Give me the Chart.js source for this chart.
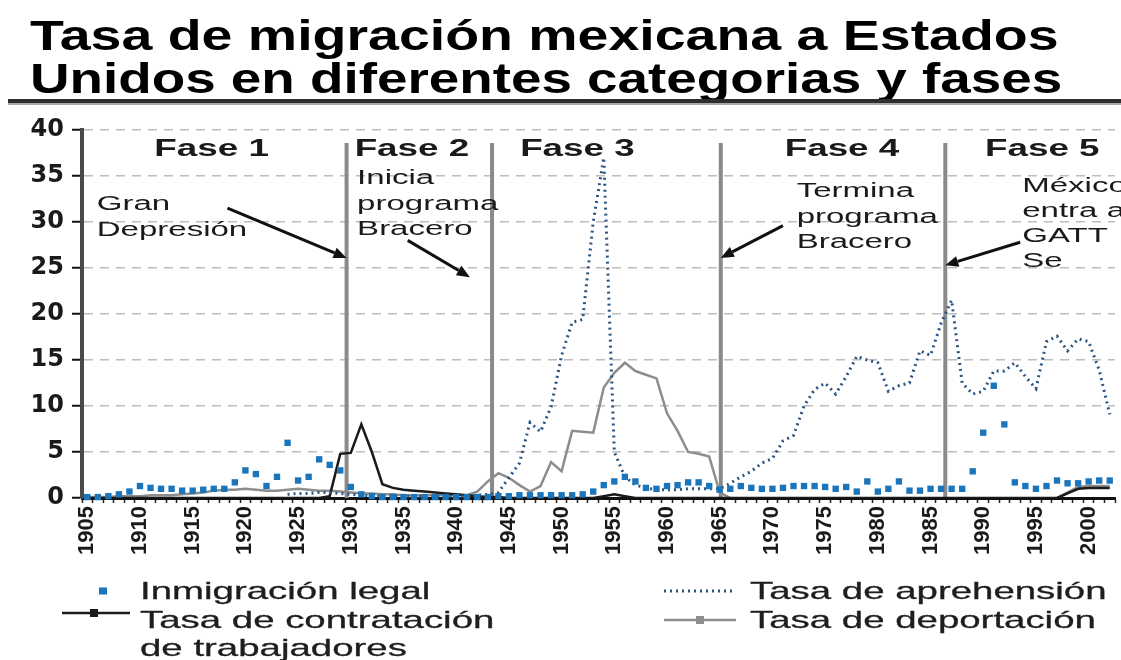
<!DOCTYPE html>
<html lang="es">
<head>
  <meta charset="UTF-8">
  <title>Tasa de migración mexicana a Estados Unidos</title>
  <script src="https://cdn.jsdelivr.net/npm/chart.js@4.4.3/dist/chart.umd.min.js"></script>
  <style>
    html, body { margin: 0; padding: 0; background: #fff; }
    body { width: 1121px; height: 660px; position: relative; overflow: hidden; font-family: "Liberation Sans", Arial, sans-serif; }
    #grafica { position: absolute; left: 0; top: 0; }
    .titulo { position: absolute; left: 30px; font-weight: bold; font-size: 43px; line-height: 46px; color: #000; white-space: nowrap; transform-origin: 0 50%; }
    .regla { position: absolute; left: 8px; top: 99px; width: 1113px; height: 4px; background: #2e2e2e; border-bottom: 2px solid #a8a8a8; }
    .ley { position: absolute; font-size: 24px; line-height: 28px; color: #1e1e1e; transform-origin: 0 0; transform: scaleX(1.6); -webkit-text-stroke: 0.3px #1e1e1e; }
    .marca { position: absolute; }
  </style>
</head>
<body>
  <canvas id="grafica" width="1121" height="660"></canvas>
  <div class="titulo" id="t1" style="top:12px">Tasa de migración mexicana a Estados</div>
  <div class="titulo" id="t2" style="top:55px">Unidos en diferentes categorias y fases</div>
  <div class="regla"></div>
  <div id="leyenda"></div>

  <script>
    // años (categorías del eje x)
    const anios = [
      1905, 1906, 1907, 1908, 1909, 1910, 1911, 1912, 1913, 1914,
      1915, 1916, 1917, 1918, 1919, 1920, 1921, 1922, 1923, 1924,
      1925, 1926, 1927, 1928, 1929, 1930, 1931, 1932, 1933, 1934,
      1935, 1936, 1937, 1938, 1939, 1940, 1941, 1942, 1943, 1944,
      1945, 1946, 1947, 1948, 1949, 1950, 1951, 1952, 1953, 1954,
      1955, 1956, 1957, 1958, 1959, 1960, 1961, 1962, 1963, 1964,
      1965, 1966, 1967, 1968, 1969, 1970, 1971, 1972, 1973, 1974,
      1975, 1976, 1977, 1978, 1979, 1980, 1981, 1982, 1983, 1984,
      1985, 1986, 1987, 1988, 1989, 1990, 1991, 1992, 1993, 1994,
      1995, 1996, 1997, 1998, 1999, 2000, 2001, 2002
    ];
    const etiquetasAnios = anios.map(String);
    const ticksY = [0, 5, 10, 15, 20, 25, 30, 35, 40];

    const inmigracionLegal = [
      0.1, 0.1, 0.2, 0.4, 0.7, 1.3, 1.1, 1.0, 1.0, 0.8,
      0.8, 0.9, 1.0, 1.0, 1.7, 3.0, 2.6, 1.3, 2.3, 6.0,
      1.9, 2.3, 4.2, 3.6, 3.0, 1.2, 0.4, 0.2, 0.1, 0.1,
      0.1, 0.1, 0.1, 0.1, 0.1, 0.1, 0.1, 0.1, 0.1, 0.2,
      0.2, 0.3, 0.3, 0.3, 0.3, 0.3, 0.3, 0.4, 0.7, 1.4,
      1.8, 2.3, 1.8, 1.1, 1.0, 1.3, 1.4, 1.7, 1.7, 1.3,
      0.9, 1.0, 1.3, 1.1, 1.0, 1.0, 1.1, 1.3, 1.3, 1.3,
      1.2, 1.0, 1.2, 0.7, 1.8, 0.7, 1.0, 1.8, 0.8, 0.8,
      1.0, 1.0, 1.0, 1.0, 2.9, 7.1, 12.2, 8.0, 1.7, 1.3,
      1.0, 1.3, 1.9, 1.6, 1.6, 1.8, 1.9, 1.9
    ];

    const contratacion = [
      0, 0, 0, 0, 0, 0, 0, 0, 0, 0,
      0, 0, 0, 0, 0, 0, 0, 0, 0, 0,
      0, 0, 0, 0.2, 4.8, 4.9, 8.0, 5.0, 1.5, 1.1,
      0.9, 0.8, 0.7, 0.6, 0.5, 0.4, 0.3, 0.2, 0.1, 0.1,
      0, 0, 0, 0, 0, 0, 0, 0, 0, 0.2,
      0.4, 0.2, 0, 0, 0, 0, 0, 0, 0, 0,
      0, 0, 0, 0, 0, 0, 0, 0, 0, 0,
      0, 0, 0, 0, 0, 0, 0, 0, 0, 0,
      0, 0, 0, 0, 0, 0, 0, 0, 0, 0,
      0, 0, 0, 0.5, 1.0, 1.1, 1.1, 1.1
    ];

    const aprehension = [
      null, null, null, null, null, null, null, null, null, null,
      null, null, null, null, null, null, null, null, null, 0.4,
      0.5, 0.5, 0.6, 0.6, 0.5, 0.4, 0.3, 0.2, 0.2, 0.2,
      0.2, 0.2, 0.2, 0.2, 0.2, 0.2, 0.2, 0.3, 0.4, 0.6,
      2.2, 3.8, 8.2, 7.2, 9.9, 15.5, 19.1, 19.4, 30.0, 37.0,
      5.0, 2.3, 1.4, 1.1, 0.9, 0.9, 0.9, 1.0, 1.0, 1.0,
      1.0, 1.6, 2.3, 2.9, 3.8, 4.3, 6.2, 6.8, 10.0, 11.8,
      12.5, 11.3, 13.2, 15.4, 15.0, 14.7, 11.6, 12.2, 12.5, 16.0,
      15.5, 19.0, 21.5, 12.5, 11.3, 11.6, 13.8, 13.8, 14.7, 13.2,
      11.9, 17.0, 17.6, 16.0, 17.3, 17.0, 13.9, 9.1
    ];

    const deportacion = [
      0.1, 0.1, 0.1, 0.2, 0.2, 0.2, 0.3, 0.3, 0.3, 0.4,
      0.5, 0.6, 0.8, 0.9, 0.9, 1.0, 0.9, 0.8, 0.8, 0.9,
      1.0, 0.9, 0.8, 0.8, 0.7, 0.6, 0.5, 0.5, 0.4, 0.4,
      0.3, 0.3, 0.3, 0.3, 0.3, 0.3, 0.3, 0.7, 1.8, 2.7,
      2.2, 1.4, 0.7, 1.3, 3.9, 2.9, 7.3, 7.2, 7.1, 12.0,
      13.6, 14.7, 13.8, 13.4, 13.0, 9.2, 7.3, 5.0, 4.8, 4.5,
      0.6, 0, null, null, null, null, null, null, null, null,
      null, null, null, null, null, null, null, null, null, null,
      null, null, null, null, null, null, null, null, null, null,
      null, null, 0, 0.6, 1.2, 1.3, 1.3, 1.3
    ];

    // años donde empieza cada fase
    const limitesFases = [1929.6, 1943.4, 1965.1, 1986.4];
    const nombresFases = ['Fase 1', 'Fase 2', 'Fase 3', 'Fase 4', 'Fase 5'];

    const nombreLegal = 'Inmigración legal';
    const nombreContratacion = 'Tasa de contratación de trabajadores';
    const nombreAprehension = 'Tasa de aprehensión';
    const nombreDeportacion = 'Tasa de deportación';

    const colorLegal = '#1b75bb';
    const colorContratacion = '#1a1a1a';
    const colorAprehension = '#2a5582';
    const colorDeportacion = '#8d8d8d';

    function px(chart, anio) {
      return chart.scales.x.getPixelForValue(anio - anios[0]);
    }
    function py(chart, valor) {
      return chart.scales.y.getPixelForValue(valor);
    }

    // texto ensanchado horizontalmente, como en la imagen original
    function textoAncho(ctx, texto, x, y, escala, alinear) {
      ctx.save();
      ctx.translate(x, y);
      ctx.scale(escala, 1);
      ctx.textAlign = alinear || 'left';
      ctx.textBaseline = 'alphabetic';
      ctx.fillText(texto, 0, 0);
      ctx.restore();
    }

    function flecha(ctx, x1, y1, x2, y2) {
      const ang = Math.atan2(y2 - y1, x2 - x1);
      const largo = 13, ancho = 5.5;
      const bx = x2 - largo * Math.cos(ang), by = y2 - largo * Math.sin(ang);
      ctx.save();
      ctx.strokeStyle = '#111';
      ctx.fillStyle = '#111';
      ctx.lineWidth = 3;
      ctx.beginPath();
      ctx.moveTo(x1, y1);
      ctx.lineTo(bx, by);
      ctx.stroke();
      ctx.beginPath();
      ctx.moveTo(x2, y2);
      ctx.lineTo(bx + ancho * Math.sin(ang), by - ancho * Math.cos(ang));
      ctx.lineTo(bx - ancho * Math.sin(ang), by + ancho * Math.cos(ang));
      ctx.closePath();
      ctx.fill();
      ctx.restore();
    }

    const pluginFases = {
      id: 'fases',
      beforeDatasetsDraw(chart) {
        const ctx = chart.ctx;
        ctx.save();
        ctx.strokeStyle = '#8a8a8a';
        ctx.lineWidth = 4;
        limitesFases.forEach(a => {
          const x = px(chart, a);
          ctx.beginPath();
          ctx.moveTo(x, py(chart, 38.6));
          ctx.lineTo(x, py(chart, 0));
          ctx.stroke();
        });
        ctx.restore();
      },
      afterDatasetsDraw(chart) {
        const ctx = chart.ctx;
        ctx.save();
        ctx.fillStyle = '#1a1a1a';

        // nombres de las fases
        const centros = [1916.8, 1935.8, 1951.5, 1976.6, 1995.6];
        ctx.font = 'bold 23px "Liberation Sans", Arial, sans-serif';
        nombresFases.forEach((n, i) => {
          textoAncho(ctx, n, px(chart, centros[i]), py(chart, 37.2), 1.6, 'center');
        });

        // notas con flechas
        const notas = [
          { anio: 1905.9, valor: 31.3, paso: 26, lineas: ['Gran', 'Depresión'], desde: [1918.3, 31.5], hasta: [1929.6, 26.1] },
          { anio: 1930.6, valor: 34.1, paso: 25.5, lineas: ['Inicia', 'programa', 'Bracero'], desde: [1935.4, 28.0], hasta: [1941.3, 24.0] },
          { anio: 1972.3, valor: 32.7, paso: 25.5, lineas: ['Termina', 'programa', 'Bracero'], desde: [1971.0, 29.6], hasta: [1965.1, 26.1] },
          { anio: 1993.7, valor: 33.3, paso: 25, lineas: ['México', 'entra a', 'GATT', 'Se'], desde: [1993.5, 27.8], hasta: [1986.4, 25.3] }
        ];
        ctx.font = '20px "Liberation Sans", Arial, sans-serif';
        notas.forEach(n => {
          const x = px(chart, n.anio);
          const y0 = py(chart, n.valor);
          n.lineas.forEach((l, i) => {
            textoAncho(ctx, l, x, y0 + i * n.paso, 1.65, 'left');
          });
          flecha(ctx, px(chart, n.desde[0]), py(chart, n.desde[1]), px(chart, n.hasta[0]), py(chart, n.hasta[1]));
        });
        ctx.restore();
      }
    };

    new Chart(document.getElementById('grafica'), {
      type: 'line',
      data: {
        labels: etiquetasAnios,
        datasets: [
          {
            label: nombreLegal, data: inmigracionLegal, showLine: false,
            pointStyle: 'rect', pointRadius: 4.5, pointBackgroundColor: colorLegal,
            pointBorderWidth: 0, order: 0, clip: 6
          },
          {
            label: nombreAprehension, data: aprehension, borderColor: colorAprehension,
            borderWidth: 3, borderDash: [2, 4], pointRadius: 0, order: 1
          },
          {
            label: nombreContratacion, data: contratacion, borderColor: colorContratacion,
            borderWidth: 2.5, pointRadius: 0, order: 2
          },
          {
            label: nombreDeportacion, data: deportacion, borderColor: colorDeportacion,
            borderWidth: 2.5, pointRadius: 0, order: 3
          }
        ]
      },
      options: {
        responsive: false,
        devicePixelRatio: 1,
        animation: false,
        spanGaps: false,
        layout: { padding: { top: 130, right: 6, bottom: 102, left: 0 } },
        plugins: {
          legend: { display: false },
          tooltip: { enabled: false },
          title: { display: false }
        },
        scales: {
          x: {
            type: 'category',
            offset: true,
            ticks: {
              autoSkip: false, minRotation: 90, maxRotation: 90, padding: 3,
              color: '#1a1a1a',
              font: { family: '"Liberation Sans", Arial, sans-serif', weight: 'bold', size: 22 },
              callback: (v, i) => (anios[i] % 5 === 0 ? etiquetasAnios[i] : '')
            },
            grid: { offset: true, drawOnChartArea: false, drawTicks: true, tickLength: 5, tickColor: '#222', tickWidth: 1.5 },
            border: { display: true, color: '#111', width: 3 },
            afterFit(s) { s.height = 60; s.paddingLeft = 0; s.paddingRight = 0; }
          },
          y: {
            min: ticksY[0],
            max: ticksY[ticksY.length - 1],
            afterBuildTicks(s) { s.ticks = ticksY.map(v => ({ value: v })); },
            ticks: {
              color: '#1a1a1a', padding: 8,
              font: { family: '"DejaVu Sans", sans-serif', weight: 'bold', size: 24 }
            },
            grid: {
              color: c => (c.tick && c.tick.value === 0 ? 'rgba(0,0,0,0)' : '#bdbdbd'),
              lineWidth: 1.5, tickColor: '#111', tickLength: 10, tickWidth: 2
            },
            border: { display: true, color: '#4a4a4a', width: 4, dash: [9, 7] },
            afterFit(s) { s.width = 82; s.paddingTop = 0; s.paddingBottom = 0; }
          }
        }
      },
      plugins: [pluginFases]
    });

    // título ensanchado para ocupar el mismo ancho que el original
    [['t1', 1028], ['t2', 1032]].forEach(([id, ancho]) => {
      const el = document.getElementById(id);
      el.style.transform = 'scaleX(' + (ancho / el.offsetWidth) + ')';
    });

    // leyenda en HTML
    const leyenda = document.getElementById('leyenda');
    const items = [
      { texto: nombreLegal, left: 140, top: 577, ancho: null,
        svg: '<svg class="marca" style="left:95px;top:583px" width="16" height="16"><rect x="4" y="4.5" width="8" height="7" fill="' + colorLegal + '"/></svg>' },
      { texto: nombreContratacion, left: 140, top: 606, ancho: 232,
        svg: '<svg class="marca" style="left:60px;top:605px" width="72" height="16"><line x1="2" y1="8" x2="70" y2="8" stroke="' + colorContratacion + '" stroke-width="2.5"/><rect x="30" y="4" width="8" height="8" fill="' + colorContratacion + '"/></svg>' },
      { texto: nombreAprehension, left: 750, top: 577, ancho: null,
        svg: '<svg class="marca" style="left:662px;top:583px" width="76" height="16"><line x1="2" y1="8" x2="74" y2="8" stroke="' + colorAprehension + '" stroke-width="3" stroke-dasharray="2 4"/></svg>' },
      { texto: nombreDeportacion, left: 750, top: 606, ancho: null,
        svg: '<svg class="marca" style="left:662px;top:612px" width="76" height="16"><line x1="2" y1="8" x2="74" y2="8" stroke="' + colorDeportacion + '" stroke-width="2.5"/><rect x="34" y="4" width="8" height="8" fill="' + colorDeportacion + '"/></svg>' }
    ];
    items.forEach(it => {
      leyenda.insertAdjacentHTML('beforeend', it.svg);
      const d = document.createElement('div');
      d.className = 'ley';
      d.style.left = it.left + 'px';
      d.style.top = it.top + 'px';
      if (it.ancho) d.style.width = it.ancho + 'px'; else d.style.whiteSpace = 'nowrap';
      d.textContent = it.texto;
      leyenda.appendChild(d);
    });
  </script>
</body>
</html>
